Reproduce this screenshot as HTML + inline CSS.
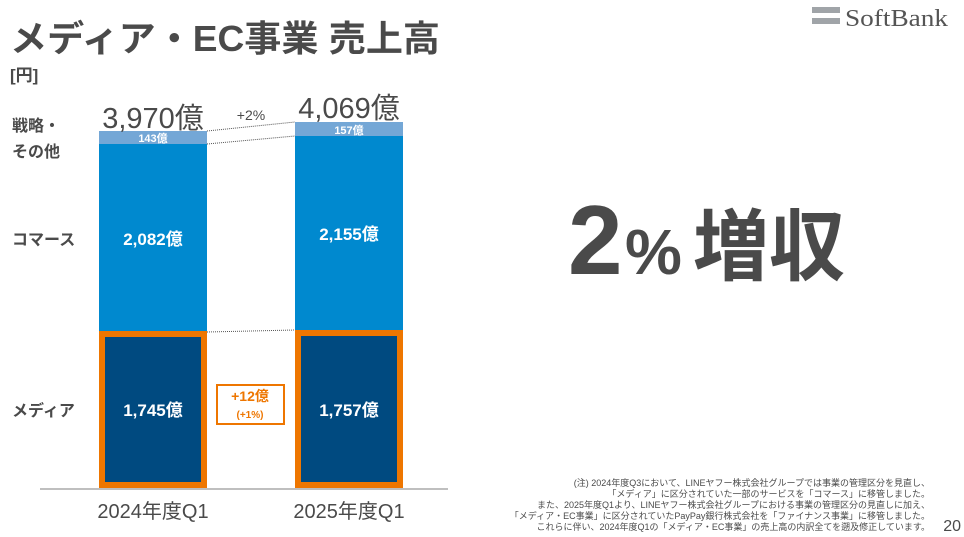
<!DOCTYPE html>
<html><head><meta charset="utf-8"><style>
html,body{margin:0;padding:0;background:#fff;}
svg{display:block;font-family:"Liberation Sans","Noto Sans CJK JP",sans-serif;}
</style></head><body>
<svg width="964" height="537" viewBox="0 0 964 537" xmlns="http://www.w3.org/2000/svg">
<text x="10" y="51" font-size="36" font-weight="bold" fill="#4a4a4a" textLength="430" lengthAdjust="spacingAndGlyphs">メディア・EC事業 売上高</text>
<text x="10" y="81" font-size="17" font-weight="bold" fill="#4a4a4a">[円]</text>
<rect x="812" y="7" width="28" height="6" fill="#a0a4a8"/>
<rect x="812" y="18" width="28" height="6" fill="#a0a4a8"/>
<text x="845" y="26" font-size="24" font-family="Liberation Serif,serif" fill="#555" textLength="103" lengthAdjust="spacingAndGlyphs">SoftBank</text>

<text x="12" y="131" font-size="16" font-weight="bold" fill="#4a4a4a">戦略・</text>
<text x="12" y="157" font-size="16" font-weight="bold" fill="#4a4a4a">その他</text>
<text x="12" y="245" font-size="16" font-weight="bold" fill="#4a4a4a">コマース</text>
<text x="12" y="416" font-size="16" font-weight="bold" fill="#4a4a4a">メディア</text>

<g stroke="#555" stroke-width="1" stroke-dasharray="1,1">
<line x1="207" y1="131" x2="295" y2="122"/>
<line x1="207" y1="144" x2="295" y2="136"/>
<line x1="207" y1="332" x2="295" y2="330"/>
</g>

<rect x="99" y="131" width="108" height="13" fill="#74a7d6"/>
<rect x="99" y="144" width="108" height="187" fill="#0089cf"/>
<rect x="102" y="334" width="102" height="151" fill="#004a80" stroke="#ee7600" stroke-width="6"/>
<rect x="295" y="122" width="108" height="14" fill="#74a7d6"/>
<rect x="295" y="136" width="108" height="194" fill="#0089cf"/>
<rect x="298" y="333" width="102" height="152" fill="#004a80" stroke="#ee7600" stroke-width="6"/>

<line x1="40" y1="489" x2="448" y2="489" stroke="#aaa" stroke-width="1.5"/>

<text x="153" y="128" font-size="29" fill="#4a4a4a" text-anchor="middle">3,970億</text>
<text x="349" y="118" font-size="29" fill="#4a4a4a" text-anchor="middle">4,069億</text>
<text x="251" y="120" font-size="14" fill="#4a4a4a" text-anchor="middle">+2%</text>
<text x="153" y="142" font-size="11" font-weight="bold" fill="#fff" text-anchor="middle">143億</text>
<text x="349" y="134" font-size="11" font-weight="bold" fill="#fff" text-anchor="middle">157億</text>
<text x="153" y="245" font-size="17" font-weight="bold" fill="#fff" text-anchor="middle">2,082億</text>
<text x="349" y="240" font-size="17" font-weight="bold" fill="#fff" text-anchor="middle">2,155億</text>
<text x="153" y="416" font-size="17" font-weight="bold" fill="#fff" text-anchor="middle">1,745億</text>
<text x="349" y="416" font-size="17" font-weight="bold" fill="#fff" text-anchor="middle">1,757億</text>

<rect x="217" y="385" width="67" height="39" fill="#fff" stroke="#ee7600" stroke-width="2"/>
<text x="250" y="401" font-size="14" font-weight="bold" fill="#ee7600" text-anchor="middle">+12億</text>
<text x="250" y="418" font-size="10" font-weight="bold" fill="#ee7600" text-anchor="middle">(+1%)</text>

<text x="153" y="518" font-size="20" fill="#4a4a4a" text-anchor="middle">2024年度Q1</text>
<text x="349" y="518" font-size="20" fill="#4a4a4a" text-anchor="middle">2025年度Q1</text>

<text x="568" y="274" font-size="98" font-weight="bold" fill="#4a4a4a">2</text>
<text x="625" y="274" font-size="64" font-weight="bold" fill="#4a4a4a">%</text>
<text x="693" y="274" font-size="78" font-weight="bold" fill="#4a4a4a" textLength="152" lengthAdjust="spacingAndGlyphs">増収</text>

<g font-size="9" fill="#4a4a4a" text-anchor="end">
<text x="930" y="486">(注) 2024年度Q3において、LINEヤフー株式会社グループでは事業の管理区分を見直し、</text>
<text x="930" y="497">「メディア」に区分されていた一部のサービスを「コマース」に移管しました。</text>
<text x="930" y="508">また、2025年度Q1より、LINEヤフー株式会社グループにおける事業の管理区分の見直しに加え、</text>
<text x="930" y="519">「メディア・EC事業」に区分されていたPayPay銀行株式会社を「ファイナンス事業」に移管しました。</text>
<text x="930" y="530">これらに伴い、2024年度Q1の「メディア・EC事業」の売上高の内訳全てを遡及修正しています。</text>
</g>
<text x="961" y="531" font-size="16" fill="#4a4a4a" text-anchor="end">20</text>
</svg>
</body></html>
